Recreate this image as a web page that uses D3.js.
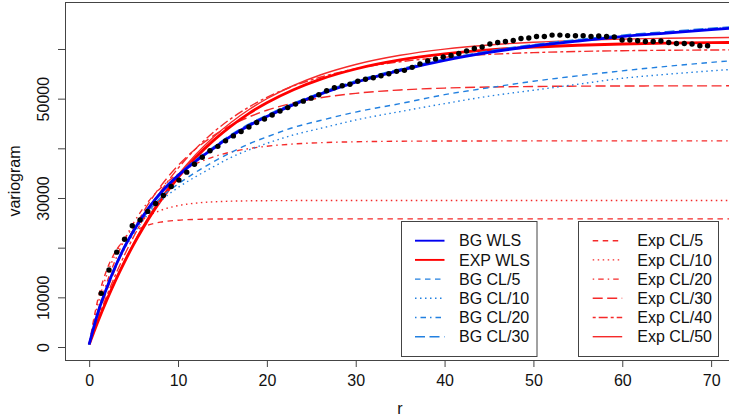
<!DOCTYPE html>
<html>
<head>
<meta charset="utf-8">
<script src="https://cdn.jsdelivr.net/npm/d3@7"></script>
<style>
  html, body { margin: 0; padding: 0; background: #fff; }
  svg { display: block; font-family: "Liberation Sans", Arial, Helvetica, sans-serif; }
</style>
</head>
<body>
<svg id="chart" width="729" height="419"></svg>
<script>
// Empirical variogram: lag distances and semivariance estimates
const lagR = [1.35, 2.23, 3.10, 3.98, 4.85, 5.73, 6.60, 7.48, 8.35, 9.23,
  10.10, 10.98, 11.85, 12.73, 13.60, 14.48, 15.35, 16.23, 17.10, 17.98,
  18.85, 19.73, 20.60, 21.48, 22.35, 23.23, 24.10, 24.98, 25.85, 26.73,
  27.60, 28.48, 29.35, 30.23, 31.10, 31.98, 32.85, 33.73, 34.60, 35.48,
  36.35, 37.23, 38.10, 38.98, 39.85, 40.73, 41.60, 42.48, 43.35, 44.23,
  45.10, 45.98, 46.85, 47.73, 48.60, 49.48, 50.35, 51.23, 52.10, 52.98,
  53.85, 54.73, 55.60, 56.48, 57.35, 58.23, 59.10, 59.98, 60.85, 61.73,
  62.60, 63.48, 64.35, 65.23, 66.10, 66.98, 67.85, 68.73, 69.60];
const empirical = [10800, 15500, 19100, 21700, 24400, 25600, 27300, 28900, 30500, 32300,
  33600, 35200, 36800, 38200, 39500, 40400, 41500, 42500, 43400, 44300,
  45200, 45900, 46700, 47500, 48200, 48900, 49500, 50100, 50800, 51600,
  52200, 52600, 52900, 53500, 53900, 54200, 54600, 55000, 55500, 55700,
  56300, 57000, 57600, 58000, 58400, 58700, 59100, 59600, 60100, 60400,
  61000, 61300, 61500, 61700, 62100, 62200, 62500, 62500, 62800, 62800,
  62700, 62650, 62650, 62500, 62600, 62500, 62400, 61800, 61800, 61650,
  61500, 61500, 61600, 61300, 61100, 61100, 61000, 60650, 60650];

// Fitted model curves, evaluated at these distances
const fitR = [0, 1, 2, 3, 4, 5, 6, 7, 8, 10, 12, 14, 16, 18, 20, 23, 26, 30, 35, 40, 45, 50, 55, 60, 65, 70, 75];
const bgWLS  = [500, 7000, 12000, 16400, 20200, 23400, 26200, 28700, 30900, 34500, 37400, 40000, 42500, 44600, 46400, 48800, 50900, 53300, 55700, 57700, 59300, 60600, 61600, 62500, 63200, 63900, 64500];
const expWLS = [500, 5190, 9520, 13520, 17200, 20610, 23750, 26660, 29330, 34090, 38140, 41600, 44540, 47050, 49180, 51810, 53880, 55970, 57790, 59010, 59830, 60380, 60750, 61000, 61160, 61270, 61350];
const bgCL5  = [500, 7000, 12000, 16400, 20100, 23200, 25800, 28000, 30000, 32800, 35200, 37300, 39200, 40900, 42300, 44200, 45600, 47300, 49000, 50800, 52200, 53500, 54600, 55600, 56500, 57300, 58000];
const bgCL10 = [500, 7000, 11900, 16200, 19800, 22800, 25300, 27500, 29300, 32100, 34300, 36300, 38200, 39700, 41000, 42700, 44000, 45700, 47400, 49000, 50500, 51700, 52900, 54100, 54900, 55600, 56200];
const bgCL20 = [500, 7050, 12100, 16500, 20300, 23500, 26300, 28800, 31000, 34600, 37550, 40150, 42650, 44750, 46550, 48950, 51050, 53450, 55850, 57850, 59450, 60750, 61750, 62650, 63350, 64050, 64650];
const bgCL30 = [500, 7100, 12200, 16600, 20400, 23600, 26400, 28900, 31100, 34700, 37700, 40300, 42800, 44900, 46700, 49100, 51200, 53600, 56000, 58000, 59600, 60900, 61900, 62800, 63500, 64200, 64800];
const expCL5  = [500, 9740, 15610, 19330, 21690, 23190, 24150, 24750, 25130, 25530, 25690, 25760, 25780, 25790, 25800, 25800, 25800, 25800, 25800, 25800, 25800, 25800, 25800, 25800, 25800, 25800, 25800];
const expCL10 = [500, 8720, 14610, 18830, 21860, 24020, 25580, 26690, 27480, 28460, 28970, 29230, 29360, 29430, 29460, 29480, 29490, 29500, 29500, 29500, 29500, 29500, 29500, 29500, 29500, 29500, 29500];
const expCL20 = [500, 7320, 13000, 17740, 21690, 24980, 27730, 30020, 31930, 34850, 36870, 38290, 39270, 39950, 40420, 40870, 41130, 41320, 41430, 41470, 41490, 41500, 41500, 41500, 41500, 41500, 41500];
const expCL30 = [500, 6280, 11430, 15990, 20060, 23670, 26880, 29730, 32270, 36530, 39900, 42560, 44670, 46330, 47660, 49120, 50160, 51070, 51750, 52130, 52340, 52450, 52520, 52550, 52570, 52580, 52590];
const expCL40 = [500, 5660, 10380, 14680, 18610, 22200, 25470, 28460, 31190, 35970, 39940, 43260, 46030, 48330, 50260, 52560, 54310, 56020, 57430, 58330, 58910, 59270, 59500, 59650, 59740, 59800, 59840];
const expCL50 = [500, 5270, 9670, 13730, 17480, 20940, 24140, 27090, 29810, 34640, 38760, 42270, 45260, 47810, 49980, 52650, 54760, 56880, 58730, 59970, 60810, 61360, 61740, 61990, 62160, 62270, 62350];

// Axis ticks
const xTicks = [0, 10, 20, 30, 40, 50, 60, 70];
const yTicks = [0, 10000, 20000, 30000, 40000, 50000, 60000];
const yTickLabels = ["0", "10000", "", "30000", "", "50000", ""];

// Legend entries
const legendLeft  = ["BG WLS", "EXP WLS", "BG CL/5", "BG CL/10", "BG CL/20", "BG CL/30"];
const legendRight = ["Exp CL/5", "Exp CL/10", "Exp CL/20", "Exp CL/30", "Exp CL/40", "Exp CL/50"];

// Line styles
const BLUE = "#0000f0", RED = "#ff0000", LBLUE = "#2280e0", LRED = "#f52a2a";
const DASH = {
  solid: null,
  dashed: "5.5,4.5",
  dotted: "1.5,3.5",
  dotdash: "1.5,4,5.5,4",
  longdash: "10,4.5",
  twodash: "3,3,9,3"
};

const series = [
  { name: "Exp CL/5",  values: expCL5,  color: LRED,  width: 1.4, dash: DASH.dashed },
  { name: "Exp CL/10", values: expCL10, color: LRED,  width: 1.4, dash: DASH.dotted },
  { name: "Exp CL/20", values: expCL20, color: LRED,  width: 1.4, dash: DASH.dotdash },
  { name: "Exp CL/30", values: expCL30, color: LRED,  width: 1.4, dash: DASH.longdash },
  { name: "Exp CL/40", values: expCL40, color: LRED,  width: 1.4, dash: DASH.twodash },
  { name: "Exp CL/50", values: expCL50, color: LRED,  width: 1.4, dash: DASH.solid },
  { name: "EXP WLS",   values: expWLS,  color: RED,   width: 2.8, dash: DASH.solid },
  { name: "BG CL/5",   values: bgCL5,   color: LBLUE, width: 1.4, dash: DASH.dashed },
  { name: "BG CL/10",  values: bgCL10,  color: LBLUE, width: 1.4, dash: DASH.dotted },
  { name: "BG CL/20",  values: bgCL20,  color: LBLUE, width: 1.4, dash: DASH.dotdash },
  { name: "BG CL/30",  values: bgCL30,  color: LBLUE, width: 1.4, dash: DASH.longdash },
  { name: "BG WLS",    values: bgWLS,   color: BLUE,  width: 2.8, dash: DASH.solid }
];
const styleOf = Object.fromEntries(series.map(s => [s.name, s]));

const svg = d3.select("#chart");
const plot = { left: 65, right: 736, top: 2, bottom: 360 };

const x = d3.scaleLinear().domain([-2.72, 72.8]).range([plot.left, plot.right]);
const y = d3.scaleLinear().domain([-2617, 69460]).range([plot.bottom, plot.top]);

svg.append("defs").append("clipPath").attr("id", "plot-clip")
  .append("rect")
  .attr("x", plot.left).attr("y", plot.top)
  .attr("width", plot.right - plot.left).attr("height", plot.bottom - plot.top);

const AXIS_COLOR = "#444";
const FONT = 16;
const TEXT_COLOR = "#111";

// x axis
const xAxis = svg.append("g")
  .attr("transform", `translate(0,${plot.bottom})`)
  .call(d3.axisBottom(x).tickValues(xTicks).tickFormat(d3.format("d")).tickSize(7).tickPadding(8));
xAxis.select(".domain").remove();
xAxis.selectAll("line").attr("stroke", AXIS_COLOR);
xAxis.selectAll("text").attr("fill", TEXT_COLOR).style("font-size", FONT + "px")
  .style("font-family", "'Liberation Sans', Arial, sans-serif");

// y axis with labels rotated parallel to the axis
const yAxis = svg.append("g")
  .attr("transform", `translate(${plot.left},0)`)
  .call(d3.axisLeft(y).tickValues(yTicks).tickFormat((d, i) => yTickLabels[i]).tickSize(7));
yAxis.select(".domain").remove();
yAxis.selectAll("line").attr("stroke", AXIS_COLOR);
yAxis.selectAll("text")
  .attr("x", null).attr("dy", null).attr("y", null)
  .attr("text-anchor", "middle")
  .attr("transform", "translate(-16,0) rotate(-90)")
  .attr("fill", TEXT_COLOR).style("font-size", FONT + "px")
  .style("font-family", "'Liberation Sans', Arial, sans-serif");

// axis titles
svg.append("text")
  .attr("x", 400).attr("y", 414)
  .attr("text-anchor", "middle").attr("fill", TEXT_COLOR)
  .style("font-size", FONT + "px")
  .text("r");
svg.append("text")
  .attr("transform", `translate(20,${(plot.top + plot.bottom) / 2}) rotate(-90)`)
  .attr("text-anchor", "middle").attr("fill", TEXT_COLOR)
  .style("font-size", FONT + "px")
  .text("variogram");

// model curves
const line = d3.line()
  .x((d, i) => x(fitR[i]))
  .y(d => y(d))
  .curve(d3.curveMonotoneX);

const curves = svg.append("g").attr("clip-path", "url(#plot-clip)");
curves.selectAll("path.model")
  .data(series)
  .join("path")
  .attr("class", "model")
  .attr("fill", "none")
  .attr("stroke", d => d.color)
  .attr("stroke-width", d => d.width)
  .attr("stroke-dasharray", d => d.dash)
  .attr("d", d => line(d.values));

// empirical points
curves.selectAll("circle.emp")
  .data(empirical)
  .join("circle")
  .attr("class", "emp")
  .attr("cx", (d, i) => x(lagR[i]))
  .attr("cy", d => y(d))
  .attr("r", 2.7)
  .attr("fill", "#000");

// plot frame
svg.append("rect")
  .attr("x", plot.left + 0.5).attr("y", plot.top + 0.5)
  .attr("width", plot.right - plot.left).attr("height", plot.bottom - plot.top)
  .attr("fill", "none").attr("stroke", AXIS_COLOR).attr("stroke-width", 1);

// legends
function drawLegend(names, box) {
  const g = svg.append("g");
  g.append("rect")
    .attr("x", box.x + 0.5).attr("y", box.y + 0.5)
    .attr("width", box.w).attr("height", box.h)
    .attr("fill", "#fff").attr("stroke", AXIS_COLOR).attr("stroke-width", 1);
  const rowY = i => box.y + 19.7 + i * 19.2;
  names.forEach((name, i) => {
    const s = styleOf[name];
    g.append("line")
      .attr("x1", box.x + box.lineX0).attr("x2", box.x + box.lineX0 + 29.5)
      .attr("y1", rowY(i)).attr("y2", rowY(i))
      .attr("stroke", s.color)
      .attr("stroke-width", Math.min(s.width, 1.9))
      .attr("stroke-dasharray", s.dash);
    g.append("text")
      .attr("x", box.x + box.textX).attr("y", rowY(i) + 5.7)
      .attr("fill", TEXT_COLOR).style("font-size", FONT + "px")
      .text(name);
  });
}
drawLegend(legendLeft,  { x: 401, y: 221, w: 135.5, h: 135, lineX0: 14, textX: 58 });
drawLegend(legendRight, { x: 578, y: 221, w: 140, h: 135, lineX0: 14.7, textX: 59.3 });
</script>
</body>
</html>
